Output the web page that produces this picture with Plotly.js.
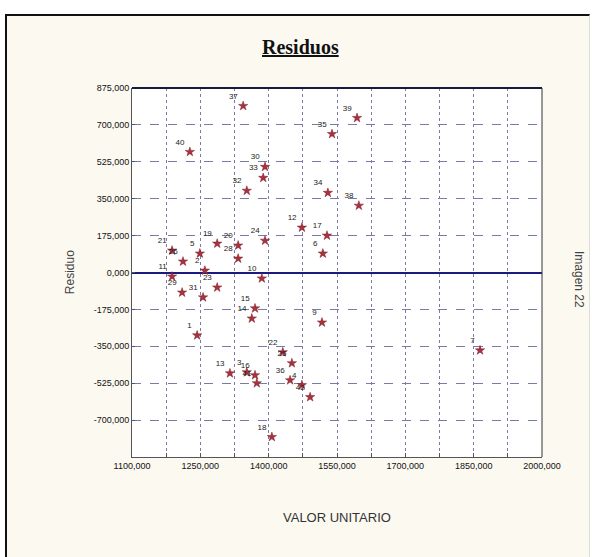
<!DOCTYPE html>
<html>
<head>
<meta charset="utf-8">
<script src="https://cdn.plot.ly/plotly-3.0.1.min.js"></script>
<style>
  html, body { margin:0; padding:0; background:#ffffff; }
  #frame { position:absolute; left:5px; top:14px; width:582px; height:541px;
           background:#fcf9f1; border-left:2px solid #111; border-top:2px solid #111;
           border-right:1px solid #ddd; }
  #chart { position:absolute; left:0; top:0; width:592px; height:557px; }
</style>
</head>
<body>
<div id="frame"></div>
<div id="chart"></div>
<script>
// Observation labels
const pointLabels = ["37","39","35","40","30","33","32","34","38","12","17","6","24","19","21","26","5","20","28","10","2","11","29","23","31","15","14","9","1","22","25","36","13","3","16","41","4","42","18","7"];
// VALOR UNITARIO
const valorUnitario = [1344,1594,1539,1227,1392,1388,1352,1530,1598,1473,1528,1519,1392,1287,1188,1212,1249,1333,1333,1385,1260,1188,1210,1287,1256,1370,1363,1517,1243,1431,1451,1447,1315,1352,1370,1374,1473,1491,1407,1864];
// Residuo
const residuo = [790,733,657,572,501,449,388,378,317,213,175,90,151,137,104,52,90,128,66,-28,9,-19,-95,-71,-118,-170,-218,-237,-298,-378,-430,-511,-478,-473,-487,-525,-534,-591,-780,-369];

// Axis ticks
const xTickVals = [1100,1175,1250,1325,1400,1475,1550,1625,1700,1775,1850,1925,2000];
const xTickText = ["1100,000","","1250,000","","1400,000","","1550,000","","1700,000","","1850,000","","2000,000"];
const yTickVals = [875,700,525,350,175,0,-175,-350,-525,-700];
const yTickText = ["875,000","700,000","525,000","350,000","175,000","0,000","-175,000","-350,000","-525,000","-700,000"];

const trace = {
  x: valorUnitario, y: residuo, text: pointLabels,
  type: "scatter", mode: "markers+text",
  textposition: "top left",
  textfont: {family: "Arial, Liberation Sans", size: 8, color: "#222"},
  marker: {symbol: "star", size: 7, color: "#a8323e", line: {color: "#7a1e2a", width: 0.5}},
  hoverinfo: "skip", cliponaxis: false
};

const gridCol = "#7a7aa6";
const layout = {
  width: 592, height: 557,
  margin: {l: 132, r: 50, t: 88, b: 100},
  paper_bgcolor: "rgba(0,0,0,0)",
  plot_bgcolor: "#ffffff",
  showlegend: false,
  font: {family: "Arial, Liberation Sans", size: 9, color: "#111"},
  xaxis: {
    range: [1100, 2000], tickmode: "array", tickvals: xTickVals, ticktext: xTickText,
    showgrid: true, gridcolor: gridCol, griddash: "dot", gridwidth: 1,
    zeroline: false, showline: true, linecolor: "#555", linewidth: 1,
    ticks: "inside", ticklen: 4, tickcolor: "#555",
    tickfont: {family: "Arial, Liberation Sans", size: 9, color: "#111"},
    mirror: false
  },
  yaxis: {
    range: [-875, 875], tickmode: "array", tickvals: yTickVals, ticktext: yTickText,
    showgrid: true, gridcolor: gridCol, griddash: "dash", gridwidth: 1,
    zeroline: true, zerolinecolor: "#1a1a80", zerolinewidth: 2,
    showline: true, linecolor: "#555", linewidth: 1,
    ticks: "inside", ticklen: 3, tickcolor: "#555",
    tickfont: {family: "Arial, Liberation Sans", size: 9, color: "#111"}
  },
  shapes: [
    {type: "line", xref: "paper", yref: "paper", x0: 0, x1: 1, y0: 1, y1: 1,
     line: {color: "#1a1a3a", width: 2}},
    {type: "line", xref: "paper", yref: "paper", x0: 1, x1: 1, y0: 0, y1: 1,
     line: {color: "#333", width: 1}}
  ],
  annotations: [
    {text: "<b><u>Residuos</u></b>", xref: "paper", yref: "paper",
     x: 0.41, y: 1.111, xanchor: "center", yanchor: "middle", showarrow: false,
     font: {family: "Liberation Serif, Times New Roman", size: 20, color: "#111"}},
    {text: "VALOR UNITARIO", xref: "paper", yref: "paper",
     x: 0.5, y: -0.165, xanchor: "center", yanchor: "middle", showarrow: false,
     font: {family: "Arial, Liberation Sans", size: 13, color: "#333"}},
    {text: "Residuo", xref: "paper", yref: "paper", textangle: -90,
     x: -0.152, y: 0.5, xanchor: "center", yanchor: "middle", showarrow: false,
     font: {family: "Arial, Liberation Sans", size: 12, color: "#444"}},
    {text: "Imagen 22", xref: "paper", yref: "paper", textangle: 90,
     x: 1.09, y: 0.48, xanchor: "center", yanchor: "middle", showarrow: false,
     font: {family: "Arial, Liberation Sans", size: 12, color: "#444"}}
  ]
};

Plotly.newPlot("chart", [trace], layout, {displayModeBar: false, staticPlot: true});
</script>
</body>
</html>
